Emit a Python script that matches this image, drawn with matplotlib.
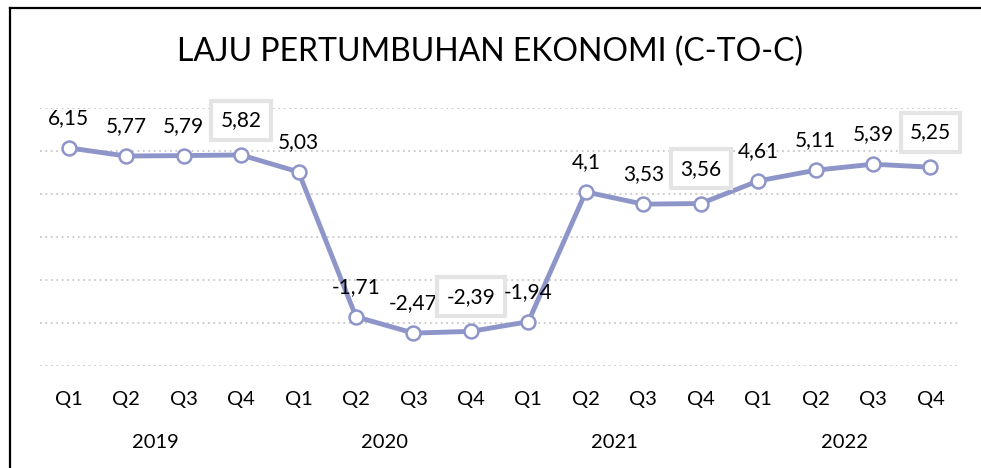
import matplotlib.pyplot as plt

# data
years = ["2019", "2020", "2021", "2022"]
quarters = ["Q1", "Q2", "Q3", "Q4"] * 4
growth = [6.15, 5.77, 5.79, 5.82, 5.03, -1.71, -2.47, -2.39,
          -1.94, 4.1, 3.53, 3.56, 4.61, 5.11, 5.39, 5.25]
boxed = [3, 7, 11, 15]  # Q4 labels drawn in a box

plt.rcParams['font.family'] = ['Lato', 'DejaVu Sans']
line_col = '#8e95c9'

fig = plt.figure(figsize=(9.81, 4.68), dpi=100)
ax = fig.add_axes([0.0408, 0.218, 0.937, 0.551])

x = list(range(len(growth)))
ax.plot(x, growth, color=line_col, lw=3.5, marker='o', ms=10,
        mfc='white', mec=line_col, mew=1.8, zorder=3, solid_joinstyle='round')

for i, v in enumerate(growth):
    txt = str(v).replace('.', ',')
    if i in boxed:
        ax.annotate(txt, (i, v), xytext=(0, 25), textcoords='offset points',
                    ha='center', va='center', fontsize=15, zorder=4,
                    bbox=dict(boxstyle='square,pad=0.45', fc='white',
                              ec='#e4e4e4', lw=3))
    else:
        ax.annotate(txt, (i, v), xytext=(0, 21.5), textcoords='offset points',
                    ha='center', va='center', fontsize=15, zorder=4)

ax.set_xlim(-0.5, len(growth) - 0.5)
ax.set_ylim(-4, 8)
ax.set_yticks(range(-4, 9, 2))
ax.yaxis.grid(True, ls=(0, (1, 2)), color='#c8c8c8', lw=1.3)
ax.tick_params(axis='y', left=False, labelleft=False)
ax.set_xticks(x)
ax.set_xticklabels(quarters, fontsize=14.5)
ax.tick_params(axis='x', length=0, pad=18)
for s in ax.spines.values():
    s.set_visible(False)

# year labels under each group of quarters
for k, yr in enumerate(years):
    ax.text(k * 4 + 1.5, -0.295, yr, transform=ax.get_xaxis_transform(),
            ha='center', va='center', fontsize=14.5)

fig.text(0.5, 0.89, "LAJU PERTUMBUHAN EKONOMI (C-TO-C)", ha='center',
         va='center', fontsize=23)

# outer frame (left and top edges)
fig.add_artist(plt.Line2D([0.0107, 0.0107], [0, 0.982], color='black', lw=1.6,
                          transform=fig.transFigure))
fig.add_artist(plt.Line2D([0.0107, 1.0], [0.982, 0.982], color='black', lw=1.6,
                          transform=fig.transFigure))

fig.savefig('out.png', dpi=100)
